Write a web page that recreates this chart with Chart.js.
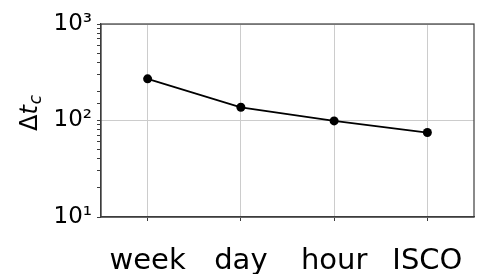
<!DOCTYPE html>
<html>
<head>
<meta charset="utf-8">
<script src="https://cdn.jsdelivr.net/npm/chart.js@4"></script>
<style>
  html, body { margin: 0; padding: 0; background: #fff; }
  canvas { display: block; }
</style>
</head>
<body>
<canvas id="myChart" width="481" height="274"></canvas>
<script>
// chart data
const categories = ["week", "day", "hour", "ISCO"];
const deltaTc = [270, 137, 99, 75];
const yMin = 10;
const yMax = 1000;
const yTickLabels = { 10: "10\u00B9", 100: "10\u00B2", 1000: "10\u00B3" };

const frameColor = "#3c3c3c";
const gridColor = "#cccccc";

function isDecade(v) {
  const l = Math.log10(v);
  return Math.abs(l - Math.round(l)) < 1e-9;
}

// draw the box round the plot area
const framePlugin = {
  id: "frame",
  beforeDatasetsDraw(chart) {
    const a = chart.chartArea;
    const ctx = chart.ctx;
    ctx.save();
    ctx.strokeStyle = frameColor;
    ctx.lineWidth = 1.2;
    ctx.strokeRect(a.left, a.top, a.right - a.left, a.bottom - a.top);
    ctx.restore();
  },
};

// y title: Δt with subscript c
const yTitlePlugin = {
  id: "yTitle",
  afterDraw(chart) {
    const ctx = chart.ctx;
    ctx.save();
    ctx.translate(37, 131);
    ctx.rotate(-Math.PI / 2);
    ctx.fillStyle = "#000";
    ctx.textBaseline = "alphabetic";
    ctx.font = '24px "DejaVu Sans"';
    ctx.fillText("\u0394", 0, 0);
    let x = ctx.measureText("\u0394").width;
    ctx.font = 'italic 24px "DejaVu Sans"';
    ctx.fillText("t", x, 0);
    x += ctx.measureText("t").width + 1;
    ctx.font = 'italic 17px "DejaVu Sans"';
    ctx.fillText("c", x, 4);
    ctx.restore();
  },
};

const ctx = document.getElementById("myChart").getContext("2d");
const myChart = new Chart(ctx, {
  type: "line",
  data: {
    labels: categories,
    datasets: [
      {
        data: deltaTc,
        borderColor: "#000",
        backgroundColor: "#000",
        borderWidth: 1.8,
        pointRadius: 4.5,
        pointBackgroundColor: "#000",
        pointBorderWidth: 0,
        tension: 0,
      },
    ],
  },
  options: {
    responsive: false,
    animation: false,
    layout: { padding: { left: 0, right: 7, top: 24, bottom: 0 } },
    plugins: {
      legend: { display: false },
      tooltip: { enabled: false },
    },
    scales: {
      x: {
        type: "category",
        offset: true,
        afterFit: (scale) => {
          scale.height = 57;
          // labels may spill past the plot edges, like the original
          scale.paddingLeft = 0;
          scale.paddingRight = 0;
        },
        grid: {
          color: gridColor,
          lineWidth: 1,
          offset: false,
          drawTicks: true,
          tickLength: 4,
          tickColor: frameColor,
        },
        border: { color: frameColor, width: 1.2 },
        ticks: {
          color: "#000",
          font: { family: "DejaVu Sans", size: 29, lineHeight: 1 },
          padding: 26,
          maxRotation: 0,
          autoSkip: false,
        },
      },
      y: {
        type: "logarithmic",
        min: yMin,
        max: yMax,
        afterFit: (scale) => {
          scale.width = 101;
          scale.paddingTop = 0;
          scale.paddingBottom = 0;
        },
        grid: {
          color: (c) => (c.tick && isDecade(c.tick.value) ? gridColor : "rgba(0,0,0,0)"),
          lineWidth: 1,
          drawTicks: true,
          tickLength: 4,
          tickColor: frameColor,
        },
        border: { color: frameColor, width: 1.2 },
        ticks: {
          color: "#000",
          font: { family: "DejaVu Sans", size: 23 },
          padding: 5,
          autoSkip: false,
          callback: (v) => yTickLabels[Math.round(v)] || (isDecade(v) ? String(v) : ""),
        },
      },
    },
  },
  plugins: [framePlugin, yTitlePlugin],
});
</script>
</body>
</html>
